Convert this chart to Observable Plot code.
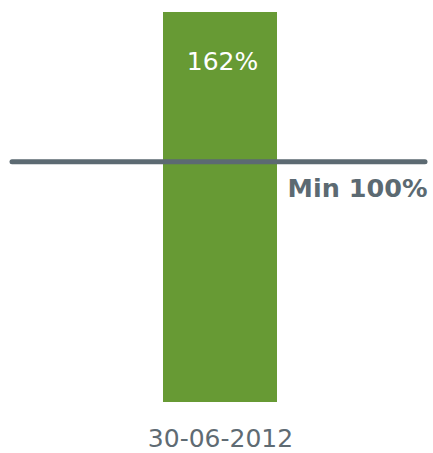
<!DOCTYPE html>
<html>
<head>
<meta charset="utf-8">
<script src="https://cdn.jsdelivr.net/npm/d3@7"></script>
<script src="https://cdn.jsdelivr.net/npm/@observablehq/plot@0.6"></script>
<style>
  html, body { margin: 0; padding: 0; background: #fff; }
  #chart svg { display: block; }
</style>
</head>
<body>
<div id="chart"></div>
<script>
const categories = ["30-06-2012"];
const values = [162];
const valueLabels = ["162%"];
const minValues = [100];
const minLabels = ["Min 100%"];

const data = categories.map((c, i) => ({date: c, value: values[i], label: valueLabels[i]}));
const mins = minValues.map((v, i) => ({value: v, label: minLabels[i]}));

const green = "#679a34";
const gray = "#5c6a72";

const chart = Plot.plot({
  width: 433,
  height: 453,
  marginTop: 12,
  marginBottom: 51,
  marginLeft: 12,
  marginRight: 8,
  style: {fontFamily: "'DejaVu Sans', Verdana, sans-serif", background: "#fff"},
  x: {domain: categories, padding: 0.567, align: 0.505, axis: null, label: null},
  y: {domain: [0, 162], axis: null},
  marks: [
    Plot.barY(data, {x: "date", y: "value", fill: green}),
    Plot.text(data, {x: "date", y: "value", text: "label", fill: "#fff", fontSize: 25, lineAnchor: "top", dy: 40, dx: 2}),
    Plot.ruleY(mins, {y: "value", stroke: gray, strokeWidth: 5, strokeLinecap: "round"}),
    Plot.text(mins, {y: "value", text: "label", frameAnchor: "right", textAnchor: "end", lineAnchor: "top", dy: 17, dx: 2, fill: gray, fontSize: 25.5, fontWeight: "bold"}),
    Plot.axisX({tickSize: 0, tickPadding: 27, fontSize: 25, fill: "#5f6b73", color: "#5f6b73", label: null})
  ]
});
document.getElementById("chart").appendChild(chart);
</script>
</body>
</html>
